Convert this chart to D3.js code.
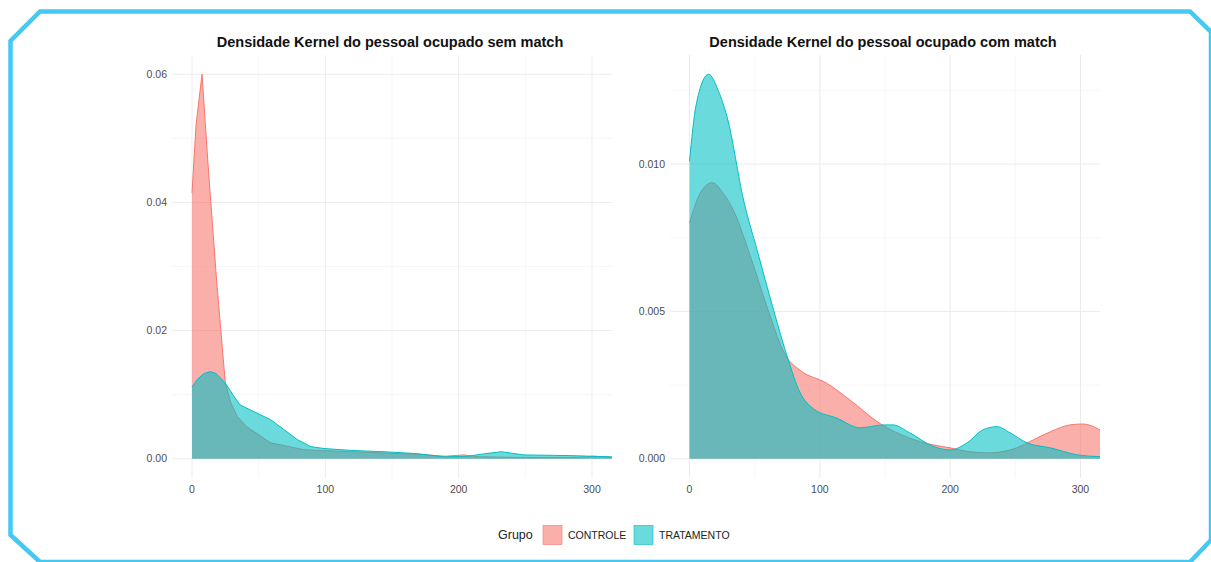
<!DOCTYPE html>
<html lang="pt">
<head>
  <meta charset="UTF-8">
  <title>Densidade Kernel do pessoal ocupado</title>
  <script src="https://d3js.org/d3.v7.min.js"></script>
  <style>
    body { margin: 0; background: #fff; font-family: "Liberation Sans", Arial, sans-serif; }
    svg { display: block; }
    .grid-major { stroke: #ebebeb; stroke-width: 1; }
    .grid-minor { stroke: #f4f4f4; stroke-width: 0.7; }
    .tick-label { fill: #4d4d4d; font-size: 10.5px; }
    .title { font-weight: bold; font-size: 14.5px; fill: #111; }
  </style>
</head>
<body>
<div id="chart"></div>
<script>
  // dados (x = pessoal ocupado, y = densidade)
  const groups = ["CONTROLE", "TRATAMENTO"];
  const groupColors = ["#F8766D", "#00BFC4"];

  // painel "sem match"
  const semCtrlX = [0, 3, 7.5, 12, 18.6, 25, 29, 34, 41, 59, 84, 119, 169, 190, 204, 215, 250, 290, 300, 310, 315];
  const semCtrlY = [0.0415, 0.052, 0.060, 0.046, 0.0274, 0.0118, 0.0088, 0.0066, 0.005, 0.0025, 0.0014, 0.0011, 0.0007, 0.0004, 0.0006, 0.0003, 0.0002, 0.0002, 0.0004, 0.0003, 0.0002];
  const semTratX = [0, 4, 9, 13.6, 18, 22, 26, 31, 36, 47, 59, 79, 89, 99, 120, 144, 169, 189, 207, 220, 232, 249, 282, 315];
  const semTratY = [0.0112, 0.0124, 0.0133, 0.0136, 0.0133, 0.0125, 0.0115, 0.0099, 0.0084, 0.0073, 0.0061, 0.003, 0.0019, 0.0016, 0.0013, 0.0011, 0.0008, 0.0003, 0.0004, 0.0008, 0.0011, 0.0006, 0.0005, 0.0003];

  // painel "com match"
  const comCtrlX = [0, 8, 17.4, 26, 34, 47, 59.5, 73.6, 85, 105, 123, 146, 169, 187, 200, 213, 230, 251, 261, 277, 292, 302, 315];
  const comCtrlY = [0.0080, 0.0090, 0.00937, 0.0090, 0.0084, 0.00683, 0.00515, 0.00351, 0.0030, 0.00257, 0.0020, 0.0012, 0.0007, 0.00047, 0.00037, 0.00025, 0.0002, 0.00037, 0.00058, 0.00092, 0.00115, 0.00118, 0.00098];
  const comTratX = [0, 5, 14.6, 22, 29, 41.6, 52, 64.6, 75, 85, 95, 113, 131, 149, 156, 169, 187, 200, 213, 225, 236, 246, 259, 277, 297, 315];
  const comTratY = [0.0101, 0.0120, 0.01305, 0.0125, 0.01157, 0.00875, 0.00706, 0.00503, 0.00346, 0.00223, 0.0017, 0.00138, 0.00105, 0.00115, 0.00115, 0.00088, 0.00042, 0.0003, 0.00054, 0.00098, 0.00109, 0.00088, 0.00054, 0.00037, 0.00014, 0.00007];

  const xTicks = [0, 100, 200, 300];
  const semYTicks = [0, 0.02, 0.04, 0.06];
  const comYTicks = [0, 0.005, 0.01];

  const width = 1211, height = 562;

  const svg = d3.select("#chart").append("svg")
    .attr("width", width)
    .attr("height", height);

  // moldura azul com cantos cortados
  const frame = [[40, 11.5], [1190, 11.5], [1211, 32], [1211, 540], [1190, 562], [40, 562], [10.5, 535], [10.5, 41]];
  svg.append("path")
    .attr("d", d3.line()(frame) + "Z")
    .attr("fill", "none")
    .attr("stroke", "#45C8F2")
    .attr("stroke-width", 4.5);

  const panels = [
    {
      title: "Densidade Kernel do pessoal ocupado sem match",
      left: 172, right: 612, top: 55, bottom: 478,
      yMax: 0.06, yTicks: semYTicks, yMinor: [0.01, 0.03, 0.05], fmt: d3.format(".2f"),
      curve: d3.curveLinear,
      series: [[semCtrlX, semCtrlY], [semTratX, semTratY]]
    },
    {
      title: "Densidade Kernel do pessoal ocupado com match",
      left: 670, right: 1100, top: 55, bottom: 478,
      yMax: 0.01305, yTicks: comYTicks, yMinor: [0.0025, 0.0075, 0.0125], fmt: d3.format(".3f"),
      curve: d3.curveMonotoneX,
      series: [[comCtrlX, comCtrlY], [comTratX, comTratY]]
    }
  ];

  panels.forEach(p => {
    const x = d3.scaleLinear().domain([-15, 315]).range([p.left, p.right]);
    const yPad = p.yMax * 0.05;
    const y = d3.scaleLinear().domain([-yPad, p.yMax + yPad]).range([p.bottom, p.top]);

    const g = svg.append("g");

    // grade
    g.selectAll(".ymin").data(p.yMinor).join("line")
      .attr("class", "grid-minor")
      .attr("x1", p.left).attr("x2", p.right)
      .attr("y1", d => y(d)).attr("y2", d => y(d));
    g.selectAll(".xmin").data([50, 150, 250]).join("line")
      .attr("class", "grid-minor")
      .attr("y1", p.top).attr("y2", p.bottom)
      .attr("x1", d => x(d)).attr("x2", d => x(d));
    g.selectAll(".ymaj").data(p.yTicks).join("line")
      .attr("class", "grid-major")
      .attr("x1", p.left).attr("x2", p.right)
      .attr("y1", d => y(d)).attr("y2", d => y(d));
    g.selectAll(".xmaj").data(xTicks).join("line")
      .attr("class", "grid-major")
      .attr("y1", p.top).attr("y2", p.bottom)
      .attr("x1", d => x(d)).attr("x2", d => x(d));

    // rotulos dos eixos
    g.selectAll(".ylab").data(p.yTicks).join("text")
      .attr("class", "tick-label")
      .attr("x", p.left - 5)
      .attr("y", d => y(d))
      .attr("dy", "0.35em")
      .attr("text-anchor", "end")
      .text(d => p.fmt(d));
    g.selectAll(".xlab").data(xTicks).join("text")
      .attr("class", "tick-label")
      .attr("x", d => x(d))
      .attr("y", p.bottom + 11)
      .attr("dy", "0.35em")
      .attr("text-anchor", "middle")
      .text(d => d);

    // densidades
    p.series.forEach(([xs, ys], i) => {
      const pts = xs.map((v, k) => [v, ys[k]]);
      const area = d3.area()
        .x(d => x(d[0])).y0(y(0)).y1(d => y(d[1]))
        .curve(p.curve);
      const line = d3.line()
        .x(d => x(d[0])).y(d => y(d[1]))
        .curve(p.curve);
      g.append("path")
        .attr("d", area(pts))
        .attr("fill", groupColors[i])
        .attr("fill-opacity", 0.58);
      g.append("path")
        .attr("d", line(pts))
        .attr("fill", "none")
        .attr("stroke", groupColors[i])
        .attr("stroke-width", 1);
    });

    g.append("text")
      .attr("class", "title")
      .attr("x", (p.left + p.right) / 2 - 2)
      .attr("y", 41.5)
      .attr("dy", "0.35em")
      .attr("text-anchor", "middle")
      .text(p.title);
  });

  // legenda
  const leg = svg.append("g").attr("transform", "translate(0,535)");
  leg.append("text")
    .attr("x", 498).attr("dy", "0.35em")
    .attr("font-size", 12.5).attr("fill", "#222")
    .text("Grupo");
  const legX = [543, 634];
  groups.forEach((name, i) => {
    leg.append("rect")
      .attr("x", legX[i]).attr("y", -9.5)
      .attr("width", 19).attr("height", 19)
      .attr("fill", groupColors[i]).attr("fill-opacity", 0.58)
      .attr("stroke", groupColors[i]).attr("stroke-width", 0.6);
    leg.append("text")
      .attr("x", legX[i] + 25).attr("dy", "0.35em")
      .attr("font-size", 10.5).attr("fill", "#222")
      .text(name);
  });
</script>
</body>
</html>
